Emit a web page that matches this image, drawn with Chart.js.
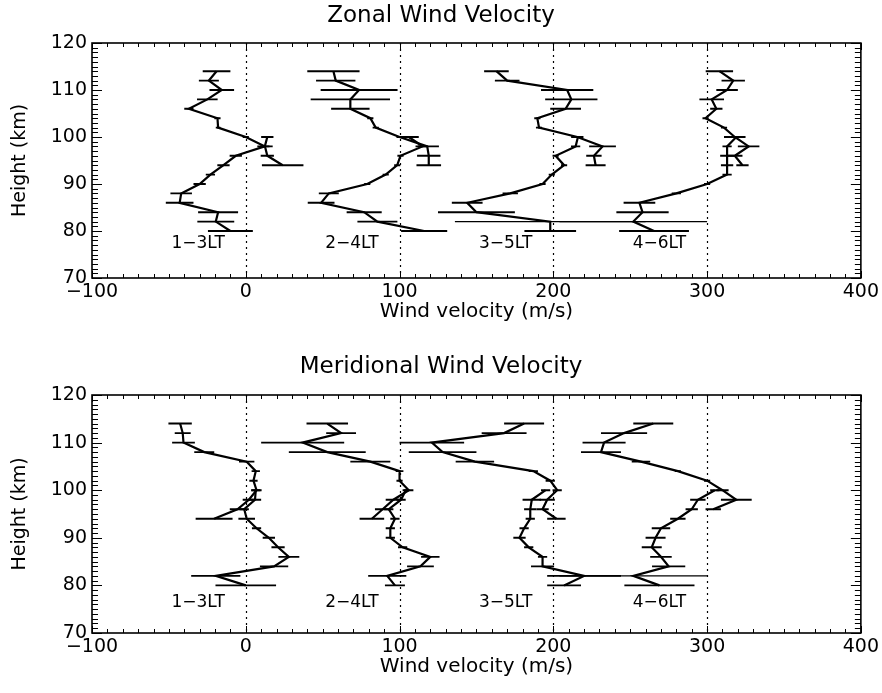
<!DOCTYPE html>
<html>
<head>
<meta charset="utf-8">
<script src="https://cdn.jsdelivr.net/npm/chart.js@4"></script>
<style>
  html, body { margin: 0; padding: 0; background: #fff; }
  .panel { position: relative; width: 882px; }
  #zonalPanel { height: 340px; }
  #meridPanel { height: 353px; }
</style>
</head>
<body>
<div class="panel" id="zonalPanel"><canvas id="zonalChart"></canvas></div>
<div class="panel" id="meridPanel"><canvas id="meridChart"></canvas></div>
<script>
const heightsUpper = [94, 96, 98, 100, 102, 104, 106, 108, 110, 112, 114];
const heightsLower = [80, 82, 84, 86, 88, 90, 92, 94, 96, 98, 100];
const xTickValues = [-100, 0, 100, 200, 300, 400];
const yTickValues = [70, 80, 90, 100, 110, 120];
const referenceLines = [0, 100, 200, 300];
const timeLabels = ['1\u22123LT', '2\u22124LT', '3\u22125LT', '4\u22126LT'];

// zonal wind, plotted positions (each profile shifted by 100 m/s)
const zonal13Up = [24, 14, 12.5, 0, -18, -18.4, -37, -25, -15.6, -24, -19];
const zonal13UpErr = [13.5, 4.3, 5, 2, 1.5, 2, 3, 6.7, 8, 6.5, 9];
const zonal13Low = [-10, -19.5, -18, -43, -42, -30, -23, -14.5, -6.5, 12.4, 14];
const zonal13LowErr = [14.6, 12, 13, 9, 7, 4, 3, 4, 4, 3, 4];

const zonal24Up = [119, 119, 118, 100, 84.5, 81, 68, 68, 73.7, 58.5, 57];
const zonal24UpErr = [8, 7.6, 7.6, 2, 2, 2, 12.5, 25.8, 25, 12.8, 17];
const zonal24Low = [116, 85.6, 77, 49, 54, 79, 91, 98.5, 100.6, 115, 106];
const zonal24LowErr = [15, 13, 11.4, 8.7, 6.5, 2, 2, 2, 2, 3, 6.5];

const zonal35Up = [227.5, 226.4, 232, 215.6, 190.7, 189.6, 208, 211.7, 209, 170, 163];
const zonal35UpErr = [6.5, 5, 8.7, 4, 2, 2, 10, 17, 17, 8, 8];
const zonal35Low = [198, 198, 150, 144, 172, 193, 199, 207, 201.5, 214.5, 216];
const zonal35LowErr = [16.8, 62, 25, 10, 5, 2, 2, 2, 2, 3, 3];

const zonal46Up = [323, 318, 327, 318, 311, 299, 306, 303, 313, 317, 308];
const zonal46UpErr = [4, 5, 7, 7, 2, 2, 4, 8, 7, 7.6, 8.9];
const zonal46Low = [265.5, 252, 258, 256, 280, 300, 313, 313, 313, 313, 319];
const zonal46LowErr = [22.7, 48, 17, 10.3, 3, 2, 3, 4, 4.5, 3, 3];

// meridional wind
const merid13Up = [-20.6, -5.4, 2, 7, 5, 6.5, 0.6, -27, -40.5, -41, -42.7];
const merid13UpErr = [12, 5, 4, 3.3, 2.7, 2.7, 5, 6.5, 7.4, 5.2, 7.6];
const merid13Low = [0, -19.5, 18.4, 28, 21, 15, 7, 0.6, -1, 6, 6.5];
const merid13LowErr = [19.7, 16, 9.2, 6.8, 4.3, 4, 3, 5.4, 3, 4, 3];

const merid24Up = [82, 89, 96, 106, 100, 100, 81, 53, 37, 62, 53];
const merid24UpErr = [8, 5, 5, 3, 2, 2.5, 13, 25, 27, 9.7, 13.5];
const merid24Low = [97, 92, 113.6, 120, 102, 94, 94, 97, 93, 101, 104];
const merid24LowErr = [6.5, 12.4, 8.7, 6, 3, 3, 3, 3, 3, 3, 2];

const merid35Up = [202, 193, 196, 202.5, 198, 187, 149, 128, 121, 168, 181];
const merid35UpErr = [6, 4, 5, 3, 3, 3, 12.5, 22, 21, 14.6, 13];
const merid35Low = [207, 220, 193, 193, 184, 178, 181, 185, 185, 186, 195];
const merid35LowErr = [11, 24, 7.5, 3, 3, 4, 3, 3, 4, 6, 3];

const merid46Up = [null, 304, 319, 310, 300, 281, 257, 231, 233, 246, 265];
const merid46UpErr = [null, 5, 10, 4, 2, 2, 6, 13, 14, 15, 13];
const merid46Low = [269, 252, 275, 270, 264, 266.5, 270, 281, 290, 294, 305];
const merid46LowErr = [22.8, 48, 10.8, 7, 6.5, 6.5, 6, 5, 4, 5, 3];

const fontFamily = '"DejaVu Sans", sans-serif';

const formatTick = (value) => (value < 0 ? `\u2212${Math.abs(value)}` : String(value));

const profile = (heights, values, errors) => ({
  data: heights
    .map((h, i) => ({ x: values[i], y: h, err: errors[i] }))
    .filter((p) => p.x !== null),
  showLine: true,
  borderColor: '#000',
  borderWidth: 2.2,
  pointRadius: 0,
  tension: 0
});

// frame, inward ticks, dotted reference lines and the LT labels
const framePlugin = {
  id: 'frame',
  beforeDatasetsDraw(chart) {
    const { ctx, chartArea: a, scales: { x, y } } = chart;
    ctx.save();
    ctx.strokeStyle = '#000';

    ctx.lineWidth = 1.2;
    ctx.setLineDash([2, 4]);
    referenceLines.forEach((v) => {
      const px = Math.round(x.getPixelForValue(v)) + 0.5;
      ctx.beginPath();
      ctx.moveTo(px, a.top);
      ctx.lineTo(px, a.bottom);
      ctx.stroke();
    });
    ctx.setLineDash([]);

    ctx.lineWidth = 1;
    ctx.beginPath();
    for (let v = -100; v <= 400; v += 10) {
      const px = Math.round(x.getPixelForValue(v)) + 0.5;
      const len = v % 100 === 0 ? 7 : 4;
      ctx.moveTo(px, a.top);
      ctx.lineTo(px, a.top + len);
      ctx.moveTo(px, a.bottom);
      ctx.lineTo(px, a.bottom - len);
    }
    for (let h = 70; h <= 120; h += 1) {
      const py = Math.round(y.getPixelForValue(h)) + 0.5;
      const len = h % 10 === 0 ? 10 : 6;
      ctx.moveTo(a.left, py);
      ctx.lineTo(a.left + len, py);
      ctx.moveTo(a.right, py);
      ctx.lineTo(a.right - len, py);
    }
    ctx.stroke();

    ctx.lineWidth = 1.6;
    ctx.strokeRect(a.left, a.top, a.right - a.left, a.bottom - a.top);

    ctx.fillStyle = '#000';
    ctx.font = `17px ${fontFamily}`;
    ctx.textAlign = 'center';
    ctx.textBaseline = 'middle';
    const labelHeight = chart.options.plugins.frame.labelHeight;
    timeLabels.forEach((text, i) => {
      ctx.fillText(text, x.getPixelForValue(referenceLines[i] - 31), y.getPixelForValue(labelHeight));
    });
    ctx.restore();
  }
};

// horizontal error bars, one per point
const errorBarPlugin = {
  id: 'errorBars',
  afterDatasetsDraw(chart) {
    const { ctx, chartArea: a, scales: { x, y } } = chart;
    ctx.save();
    ctx.beginPath();
    ctx.rect(a.left, a.top, a.right - a.left, a.bottom - a.top);
    ctx.clip();
    ctx.strokeStyle = '#000';
    chart.data.datasets.forEach((ds) => {
      ds.data.forEach((p) => {
        const py = y.getPixelForValue(p.y);
        ctx.lineWidth = p.err > 40 ? 1.1 : 1.9;
        ctx.beginPath();
        ctx.moveTo(x.getPixelForValue(p.x - p.err), py);
        ctx.lineTo(x.getPixelForValue(p.x + p.err), py);
        ctx.stroke();
      });
    });
    ctx.restore();
  }
};

const createPanel = (canvasId, title, datasets, opts) => {
  const ctx = document.getElementById(canvasId);
  return new Chart(ctx, {
    type: 'scatter',
    data: { datasets },
    plugins: [framePlugin, errorBarPlugin],
    options: {
      responsive: true,
      maintainAspectRatio: false,
      animation: false,
      devicePixelRatio: 1,
      events: [],
      layout: { padding: 0 },
      plugins: {
        legend: { display: false },
        tooltip: { enabled: false },
        title: {
          display: true,
          text: title,
          color: '#000',
          font: { family: fontFamily, size: 23, weight: 'normal' },
          padding: opts.titlePadding
        },
        frame: { labelHeight: opts.labelHeight }
      },
      scales: {
        x: {
          type: 'linear',
          min: -100,
          max: 400,
          afterBuildTicks: (scale) => {
            scale.ticks = xTickValues.map((value) => ({ value }));
          },
          afterFit: (scale) => {
            scale.height = opts.xAxisHeight;
          },
          grid: { display: false, drawTicks: false },
          border: { display: false },
          ticks: {
            color: '#000',
            font: { family: fontFamily, size: 19 },
            padding: 3,
            maxRotation: 0,
            autoSkip: false,
            callback: formatTick
          },
          title: {
            display: true,
            text: 'Wind velocity (m/s)',
            color: '#000',
            font: { family: fontFamily, size: 20 },
            padding: { top: 0, bottom: opts.xTitleBottom }
          }
        },
        y: {
          type: 'linear',
          min: 70,
          max: 120,
          afterBuildTicks: (scale) => {
            scale.ticks = yTickValues.map((value) => ({ value }));
          },
          afterFit: (scale) => {
            scale.width = 92;
          },
          grid: { display: false, drawTicks: false },
          border: { display: false },
          ticks: {
            color: '#000',
            font: { family: fontFamily, size: 19 },
            padding: 5,
            autoSkip: false
          },
          title: {
            display: true,
            text: 'Height (km)',
            color: '#000',
            font: { family: fontFamily, size: 19 },
            padding: { top: 9, bottom: 0 }
          }
        },
        yRight: {
          type: 'linear',
          position: 'right',
          min: 70,
          max: 120,
          grid: { display: false, drawTicks: false },
          border: { display: false },
          ticks: { display: false },
          afterFit: (scale) => {
            scale.width = 21;
          }
        }
      }
    }
  });
};

createPanel('zonalChart', 'Zonal Wind Velocity', [
  profile(heightsUpper, zonal13Up, zonal13UpErr),
  profile(heightsLower, zonal13Low, zonal13LowErr),
  profile(heightsUpper, zonal24Up, zonal24UpErr),
  profile(heightsLower, zonal24Low, zonal24LowErr),
  profile(heightsUpper, zonal35Up, zonal35UpErr),
  profile(heightsLower, zonal35Low, zonal35LowErr),
  profile(heightsUpper, zonal46Up, zonal46UpErr),
  profile(heightsLower, zonal46Low, zonal46LowErr)
], { titlePadding: { top: 2, bottom: 13.4 }, xAxisHeight: 62, xTitleBottom: 16, labelHeight: 77.4 });

createPanel('meridChart', 'Meridional Wind Velocity', [
  profile(heightsUpper, merid13Up, merid13UpErr),
  profile(heightsLower, merid13Low, merid13LowErr),
  profile(heightsUpper, merid24Up, merid24UpErr),
  profile(heightsLower, merid24Low, merid24LowErr),
  profile(heightsUpper, merid35Up, merid35UpErr),
  profile(heightsLower, merid35Low, merid35LowErr),
  profile(heightsUpper, merid46Up, merid46UpErr),
  profile(heightsLower, merid46Low, merid46LowErr)
], { titlePadding: { top: 13, bottom: 14.4 }, xAxisHeight: 60, xTitleBottom: 14, labelHeight: 76.3 });
</script>
</body>
</html>
